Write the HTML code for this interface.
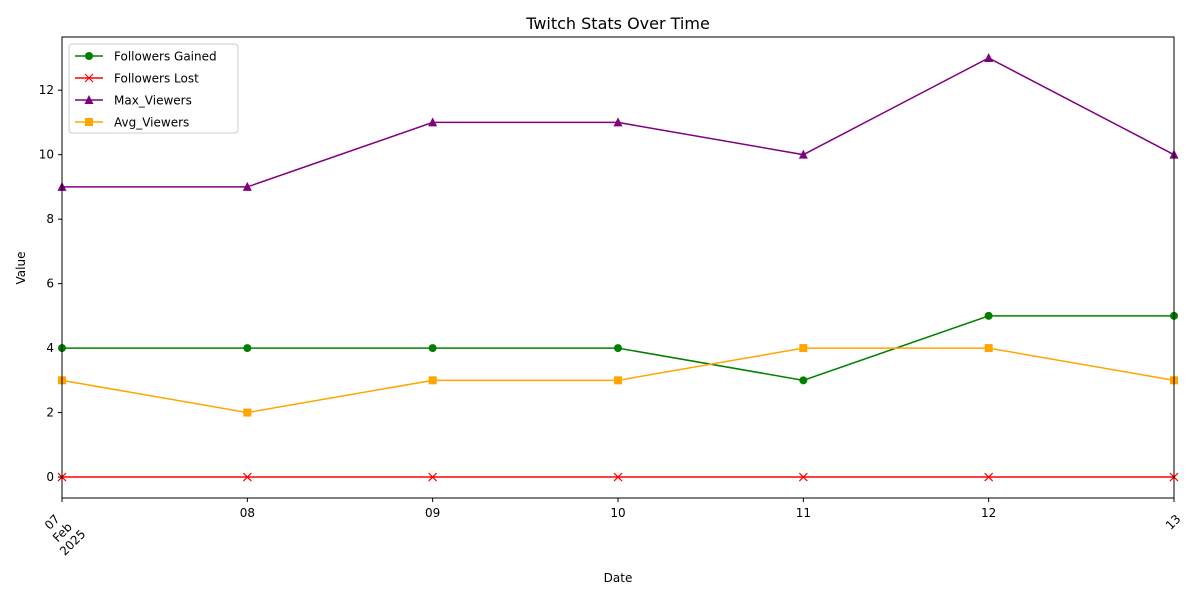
<!DOCTYPE html>
<html><head><meta charset="utf-8"><style>
body{margin:0;background:#fff;font-family:"Liberation Sans","DejaVu Sans",sans-serif;}
svg text{font-family:"DejaVu Sans","Liberation Sans",sans-serif;font-size:12px;fill:#000;}
</style></head><body>
<svg id="chart" width="1200" height="600" xmlns="http://www.w3.org/2000/svg">
<text x="618" y="29" text-anchor="middle" style="font-size:16px">Twitch Stats Over Time</text>
<g id="grid"></g>
<g id="series"></g>
<rect x="62" y="37" width="1112" height="461" fill="none" stroke="#000" stroke-width="1"/>
<text x="618" y="582" text-anchor="middle">Date</text>
<text transform="translate(25,268) rotate(-90)" text-anchor="middle">Value</text>
<g id="legend"></g>
</svg>
<script>
const dates=["07","08","09","10","11","12","13"];
const followersGained=[4,4,4,4,3,5,5];
const followersLost=[0,0,0,0,0,0,0];
const maxViewers=[9,9,11,11,10,13,10];
const avgViewers=[3,2,3,3,4,4,3];
const yTicks=[0,2,4,6,8,10,12];
const NS="http://www.w3.org/2000/svg";
const svg=document.getElementById('chart');
const X0=62,X1=1174,Y0=498,Y1=37,YMIN=-0.65,YMAX=13.65;
const xs=i=>X0+(X1-X0)*i/(dates.length-1);
const ys=v=>Y0-(v-YMIN)/(YMAX-YMIN)*(Y0-Y1);
function mk(t,a,p){const e=document.createElementNS(NS,t);for(const k in a)e.setAttribute(k,a[k]);(p||svg).appendChild(e);return e;}
const grid=document.getElementById('grid');
yTicks.forEach(v=>{
  const l=mk('line',{x1:X0-4,x2:X0,y1:ys(v),y2:ys(v),stroke:'#000'},grid);
  
  
  const t=mk('text',{x:X0-8,y:ys(v)+4,'text-anchor':'end'},grid);t.textContent=v;
  
  
});
dates.forEach((d,i)=>{
  const x=xs(i);
  const l=mk('line',{x1:x,x2:x,y1:Y0,y2:Y0+4,stroke:'#000'},grid);
  
  
  let t;
  if(i===0||i===dates.length-1){
    const lines=i===0?[d,"Feb","2025"]:[d];
    t=mk('text',{transform:`translate(${x-7+(i===0?0:9)},${Y0+27}) rotate(-45)`,'text-anchor':'middle'},grid);
    lines.forEach((s,j)=>{const ts=mk('tspan',{x:0,dy:j===0?0:14.5},t);ts.textContent=s;});
  } else {
    t=mk('text',{x:x,y:Y0+19,'text-anchor':'middle'},grid);t.textContent=d;
  }
  
  
});
const seriesG=document.getElementById('series');
const defs=[
 {name:'Followers Gained',data:followersGained,color:'green',m:'o',key:'followers-gained'},
 {name:'Followers Lost',data:followersLost,color:'red',m:'x',key:'followers-lost'},
 {name:'Max_Viewers',data:maxViewers,color:'purple',m:'^',key:'max-viewers'},
 {name:'Avg_Viewers',data:avgViewers,color:'orange',m:'s',key:'avg-viewers'}];
function marker(m,x,y,c,p){
  if(m==='o')return mk('circle',{cx:x,cy:y,r:4,fill:c},p);
  if(m==='s')return mk('rect',{x:x-4,y:y-4,width:8,height:8,fill:c},p);
  if(m==='^')return mk('polygon',{points:`${x},${y-5} ${x+4.5},${y+4} ${x-4.5},${y+4}`,fill:c},p);
  return mk('path',{d:`M${x-4},${y-4}L${x+4},${y+4}M${x-4},${y+4}L${x+4},${y-4}`,stroke:c,'stroke-width':1.2},p);
}
defs.forEach(s=>{
  const g=mk('g',{},seriesG);
  
  
  const pl=mk('polyline',{points:s.data.map((v,i)=>xs(i)+','+ys(v)).join(' '),fill:'none',stroke:s.color,'stroke-width':1.5},g);
  
  
  s.data.forEach((v,i)=>{const mm=marker(s.m,xs(i),ys(v),s.color,g);
    
    });
});
const lg=document.getElementById('legend');


mk('rect',{x:69,y:44,width:169,height:89,rx:3,fill:'#fff',stroke:'#ccc'},lg);
defs.forEach((s,i)=>{
  const y=56+i*22;
  const e=mk('g',{},lg);
  
  
  mk('line',{x1:75,x2:103,y1:y,y2:y,stroke:s.color,'stroke-width':1.5},e);
  marker(s.m,89,y,s.color,e);
  const t=mk('text',{x:114,y:y+4.5},e);t.textContent=s.name;
});
</script>
</body></html>
